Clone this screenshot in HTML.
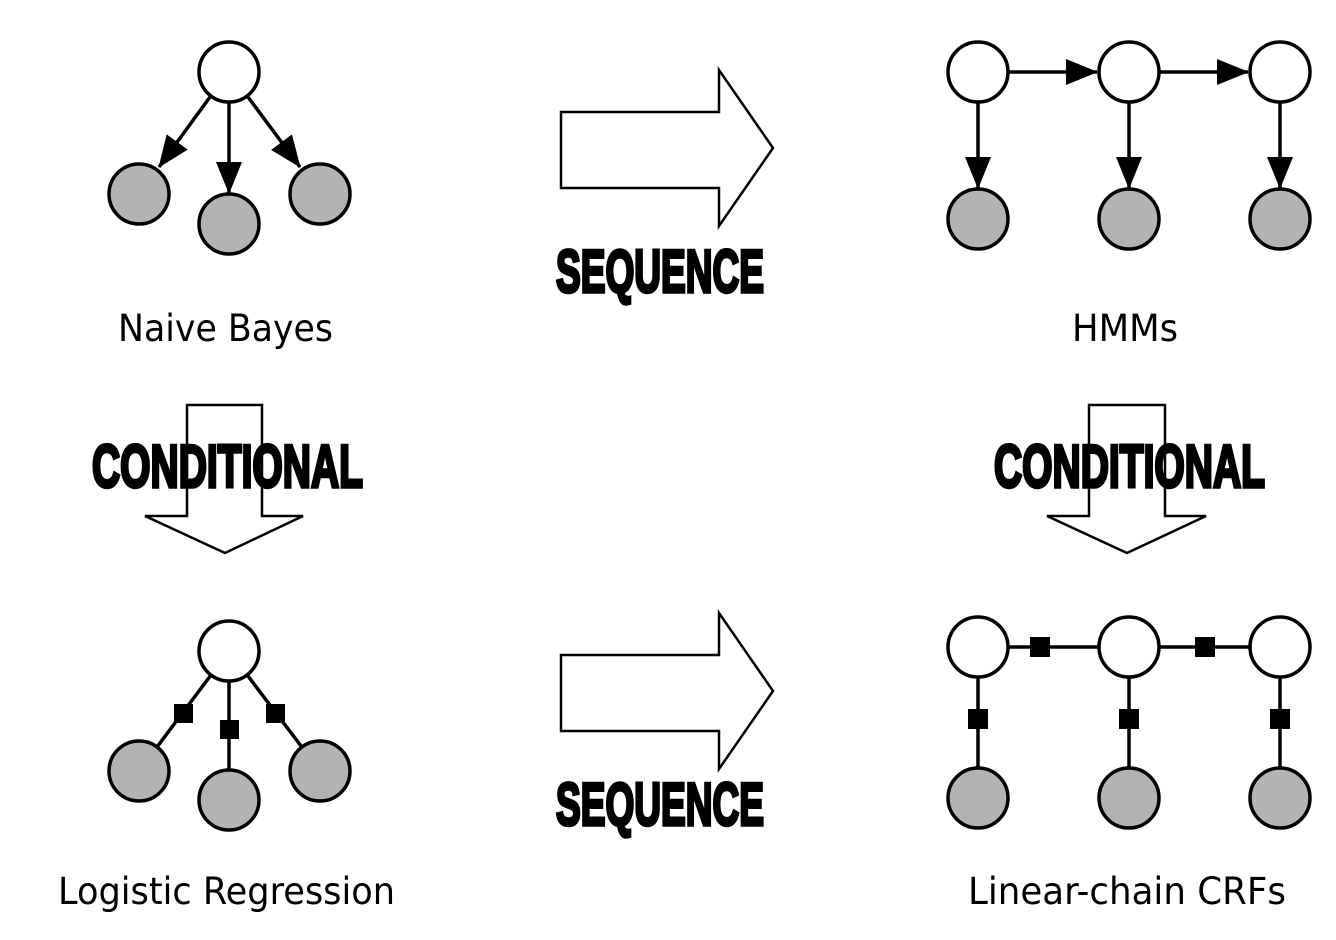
<!DOCTYPE html>
<html><head><meta charset="utf-8"><style>html,body{margin:0;padding:0;background:#fff}svg{display:block}</style></head>
<body>
<svg width="1336" height="940" viewBox="0 0 1336 940" xmlns="http://www.w3.org/2000/svg">
<defs>
<marker id="ah" markerWidth="32" markerHeight="26" refX="31" refY="13" orient="auto" markerUnits="userSpaceOnUse">
<path d="M0,0 L32,13 L0,26 Z" fill="#000"/>
</marker>
</defs>
<g stroke="#000" stroke-width="3.5" fill="none">
<!-- Naive Bayes -->
<line x1="210" y1="97" x2="159" y2="167" marker-end="url(#ah)"/>
<line x1="229" y1="103" x2="229" y2="193" marker-end="url(#ah)"/>
<line x1="248" y1="97" x2="300" y2="167" marker-end="url(#ah)"/>
<!-- HMM -->
<line x1="1009" y1="72" x2="1097" y2="72" marker-end="url(#ah)"/>
<line x1="1160" y1="72" x2="1248" y2="72" marker-end="url(#ah)"/>
<line x1="978" y1="103" x2="978" y2="188" marker-end="url(#ah)"/>
<line x1="1129" y1="103" x2="1129" y2="188" marker-end="url(#ah)"/>
<line x1="1280" y1="103" x2="1280" y2="188" marker-end="url(#ah)"/>
<!-- LR -->
<line x1="229" y1="651" x2="139" y2="771"/>
<line x1="229" y1="651" x2="229" y2="800"/>
<line x1="229" y1="651" x2="320" y2="771"/>
<!-- CRF -->
<line x1="978" y1="647" x2="1280" y2="647"/>
<line x1="978" y1="647" x2="978" y2="798"/>
<line x1="1129" y1="647" x2="1129" y2="798"/>
<line x1="1280" y1="647" x2="1280" y2="798"/>
</g>
<g stroke="#000" stroke-width="3.5">
<circle cx="229" cy="72" r="30" fill="#fff"/>
<circle cx="139" cy="194" r="30" fill="#b3b3b3"/>
<circle cx="229" cy="224" r="30" fill="#b3b3b3"/>
<circle cx="320" cy="194" r="30" fill="#b3b3b3"/>

<circle cx="978" cy="72" r="30" fill="#fff"/>
<circle cx="1129" cy="72" r="30" fill="#fff"/>
<circle cx="1280" cy="72" r="30" fill="#fff"/>
<circle cx="978" cy="219" r="30" fill="#b3b3b3"/>
<circle cx="1129" cy="219" r="30" fill="#b3b3b3"/>
<circle cx="1280" cy="219" r="30" fill="#b3b3b3"/>

<circle cx="229" cy="651" r="30" fill="#fff"/>
<circle cx="139" cy="771" r="30" fill="#b3b3b3"/>
<circle cx="229" cy="800" r="30" fill="#b3b3b3"/>
<circle cx="320" cy="771" r="30" fill="#b3b3b3"/>

<circle cx="978" cy="647" r="30" fill="#fff"/>
<circle cx="1129" cy="647" r="30" fill="#fff"/>
<circle cx="1280" cy="647" r="30" fill="#fff"/>
<circle cx="978" cy="798" r="30" fill="#b3b3b3"/>
<circle cx="1129" cy="798" r="30" fill="#b3b3b3"/>
<circle cx="1280" cy="798" r="30" fill="#b3b3b3"/>
</g>
<g fill="#000">
<rect x="174" y="704" width="19" height="19"/>
<rect x="220" y="720" width="19" height="19"/>
<rect x="266" y="704" width="19" height="19"/>
<rect x="1030" y="637" width="20" height="20"/>
<rect x="1195" y="637" width="20" height="20"/>
<rect x="968" y="709" width="20" height="20"/>
<rect x="1119" y="709" width="20" height="20"/>
<rect x="1270" y="709" width="20" height="20"/>
</g>
<!-- big arrows -->
<g stroke="#000" stroke-width="2.5" fill="#fff" stroke-linejoin="miter">
<path d="M561,112 L719,112 L719,70 L773,148 L719,226 L719,188 L561,188 Z"/>
<path d="M561,655 L719,655 L719,613 L773,691 L719,769 L719,731 L561,731 Z"/>
<path d="M187,405 L262,405 L262,516 L303,516 L225,553 L145,516 L187,516 Z"/>
<path d="M1089,405 L1165,405 L1165,516 L1206,516 L1127,553 L1047,516 L1089,516 Z"/>
</g>
<g font-family="'Liberation Sans', sans-serif" font-weight="bold" font-size="60" fill="#000" stroke="#000" stroke-width="3.5">
<text x="556" y="292" textLength="208" lengthAdjust="spacingAndGlyphs">SEQUENCE</text>
<text x="556" y="825" textLength="208" lengthAdjust="spacingAndGlyphs">SEQUENCE</text>
<text x="92" y="487" textLength="271" lengthAdjust="spacingAndGlyphs">CONDITIONAL</text>
<text x="994" y="487" textLength="271" lengthAdjust="spacingAndGlyphs">CONDITIONAL</text>
</g>
<g font-family="'DejaVu Sans', sans-serif" font-size="37" fill="#000">
<text x="118" y="341" textLength="215" lengthAdjust="spacingAndGlyphs">Naive Bayes</text>
<text x="1072" y="341" textLength="106" lengthAdjust="spacingAndGlyphs">HMMs</text>
<text x="58" y="904" textLength="337" lengthAdjust="spacingAndGlyphs">Logistic Regression</text>
<text x="968" y="904" textLength="318" lengthAdjust="spacingAndGlyphs">Linear-chain CRFs</text>
</g>
</svg>
</body></html>
